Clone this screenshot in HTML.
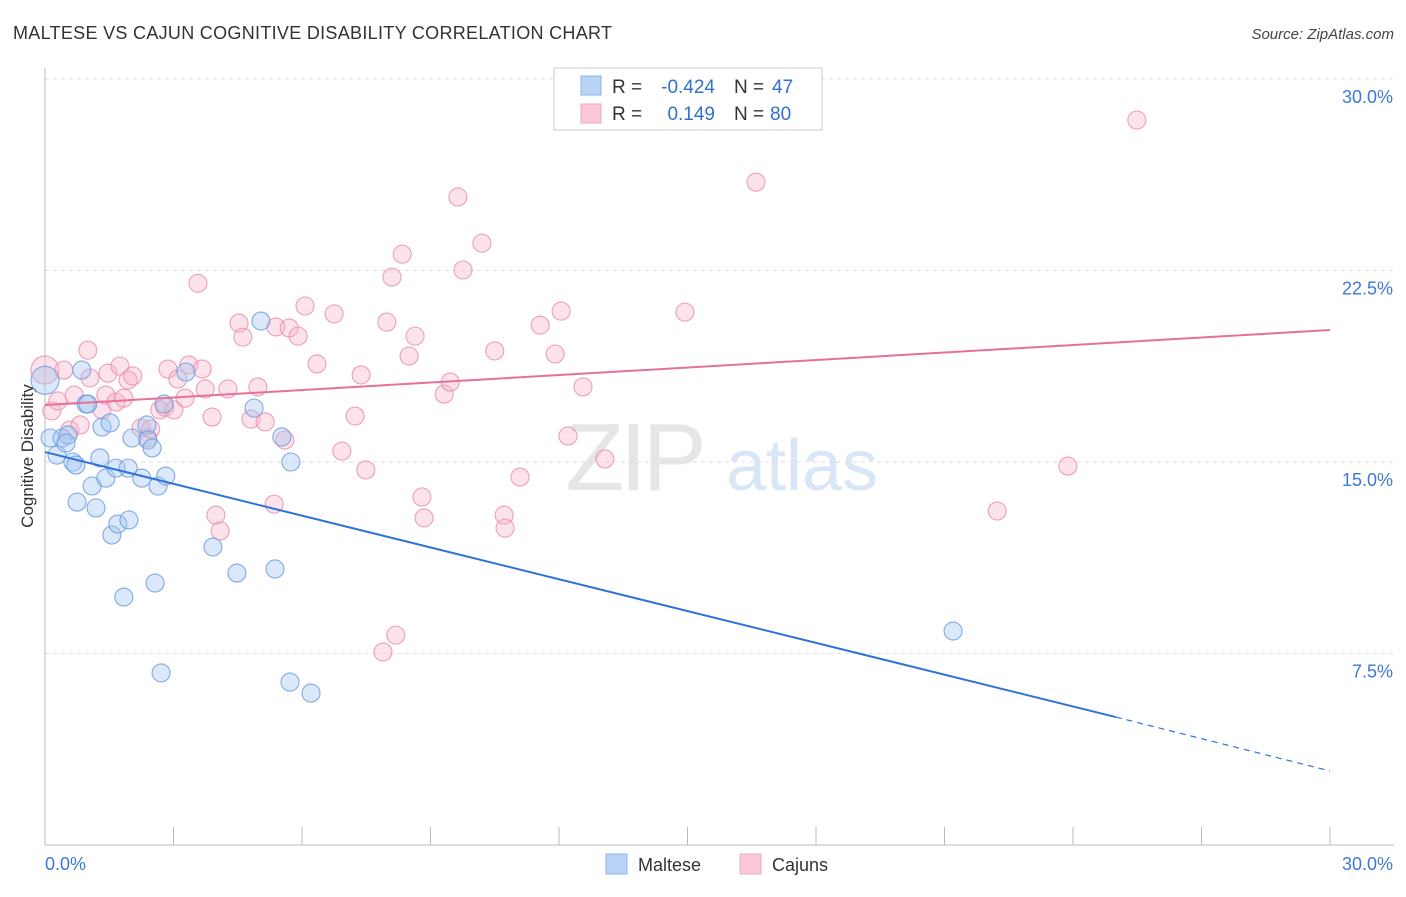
<!DOCTYPE html>
<html><head><meta charset="utf-8"><style>
body{margin:0;background:#fff;font-family:"Liberation Sans",sans-serif;}
svg text{font-family:"Liberation Sans",sans-serif;}
</style></head><body>
<svg id="chart" width="1406" height="892" xmlns="http://www.w3.org/2000/svg">
<text x="13" y="39" font-size="18" fill="#333" textLength="599">MALTESE VS CAJUN COGNITIVE DISABILITY CORRELATION CHART</text>
<text x="1394" y="39" font-size="15" fill="#444" text-anchor="end" font-style="italic">Source: ZipAtlas.com</text>
<text transform="translate(33,456) rotate(-90)" font-size="17" fill="#333" text-anchor="middle">Cognitive Disability</text>
<g>
<text x="634" y="490" font-size="96" fill="#e6e6e6" text-anchor="middle" font-family="Liberation Serif,serif" letter-spacing="-4">ZIP</text>
<text x="802" y="490" font-size="72" fill="#d8e6f6" text-anchor="middle">atlas</text>
</g>
<g id="grid"></g><g id="axes"></g><g id="marks"></g><g id="trends"></g>
<g>
<rect x="554" y="68" width="268" height="62" fill="#fff" stroke="#ccc"/>
<rect x="581" y="76" width="20" height="19" fill="#b9d3f5" stroke="#8cb3e8"/>
<rect x="581" y="104" width="20" height="19" fill="#fbc8d7" stroke="#f0a5bd"/>
<text x="612" y="93" font-size="19" fill="#333">R =</text>
<text x="715" y="93" font-size="19" fill="#3070d0" text-anchor="end">-0.424</text>
<text x="734" y="93" font-size="19" fill="#333">N =</text>
<text x="772" y="93" font-size="19" fill="#3070d0">47</text>
<text x="612" y="120" font-size="19" fill="#333">R =</text>
<text x="715" y="120" font-size="19" fill="#3070d0" text-anchor="end">0.149</text>
<text x="734" y="120" font-size="19" fill="#333">N =</text>
<text x="770" y="120" font-size="19" fill="#3070d0">80</text>
</g>
<g>
<rect x="606" y="854" width="21" height="20" fill="#b9d3f5" stroke="#8cb3e8"/>
<text x="638" y="871" font-size="18" fill="#333">Maltese</text>
<rect x="740" y="854" width="21" height="20" fill="#fbc8d7" stroke="#f0a5bd"/>
<text x="772" y="871" font-size="18" fill="#333">Cajuns</text>
</g>
</svg>
<script>
const yTicks=[7.5,15,22.5,30];
const yTickLabels=["7.5%","15.0%","22.5%","30.0%"];
const xTickVals=[0,3,6,9,12,15,18,21,24,27,30];
const malteseX=[0,0.12,0.28,0.40,0.54,0.49,0.65,0.72,0.86,0.96,1.0,1.10,1.19,0.75,1.28,1.33,1.42,1.52,1.56,1.66,1.70,1.84,1.94,1.96,2.03,2.26,2.38,2.40,2.50,2.57,2.64,2.71,2.78,2.82,3.29,3.92,4.48,4.88,5.04,5.37,5.53,5.72,5.74,6.21,21.2];
const malteseY=[18.2,15.94,15.27,15.94,16.06,15.74,15.0,14.88,18.6,17.27,17.27,14.06,13.2,13.43,15.16,16.37,14.37,16.53,12.14,14.76,12.57,9.71,14.76,12.73,15.94,14.37,16.45,15.86,15.55,10.26,14.06,6.74,17.27,14.45,18.52,11.67,10.65,17.11,20.52,10.81,15.98,6.38,15.0,5.95,8.38];
const cajunX=[0,0.16,0.30,0.44,0.58,0.68,0.82,1.0,1.05,1.33,1.42,1.47,1.66,1.75,1.84,1.94,2.05,2.24,2.40,2.47,2.68,2.80,2.87,3.01,3.10,3.27,3.36,3.57,3.67,3.74,3.90,3.99,4.09,4.27,4.53,4.62,4.81,4.97,5.14,5.35,5.39,5.60,5.70,5.91,6.07,6.35,6.75,6.93,7.24,7.38,7.49,7.98,8.10,8.19,7.89,8.34,8.50,8.64,8.80,8.85,9.32,9.46,9.64,9.76,10.2,10.5,10.72,10.74,11.09,11.56,11.91,12.05,12.21,12.56,13.07,14.94,16.6,22.23,23.88,25.49];
const cajunY=[18.6,17.0,17.39,18.6,16.25,17.62,16.45,19.38,18.29,17.04,17.62,18.48,17.35,18.76,17.5,18.21,18.37,16.33,15.94,16.29,17.04,17.15,18.64,17.04,18.25,17.5,18.8,22.0,18.64,17.86,16.76,12.92,12.3,17.86,20.44,19.89,16.68,17.94,16.57,13.35,20.29,15.86,20.25,19.93,21.11,18.84,20.8,15.43,16.8,18.41,14.69,20.48,22.24,8.22,7.56,23.14,19.15,19.93,13.63,12.81,17.66,18.13,25.38,22.52,23.57,19.35,12.92,12.41,14.41,20.36,19.23,20.91,16.02,17.94,15.12,20.87,25.96,13.08,14.84,28.39];
const malteseTrend=[15.39,5.01,2.9]; // at x=0, 25, 30
const cajunTrend=[17.23,20.17]; // at x=0, 30
const NS="http://www.w3.org/2000/svg";
const X=v=>45+v/30*1285, Y=v=>845-v/7.5*191.5;
function mk(t,a,p){const e=document.createElementNS(NS,t);for(const k in a)e.setAttribute(k,a[k]);document.getElementById(p).appendChild(e);return e;}
yTicks.forEach((t,i)=>{
 const g=mk('line',{x1:45,x2:1394,y1:Y(t),y2:Y(t),stroke:'#ddd','stroke-dasharray':'4,4'},'grid');
 
 
 const l=mk('text',{x:1393,y:Y(t)+24,'font-size':18,fill:'#3c78d8','text-anchor':'end'},'axes');
 l.textContent=yTickLabels[i];
 
 
});
const ya=mk('line',{x1:45,x2:45,y1:68,y2:845,stroke:'#bbb'},'axes');


const xa=mk('line',{x1:45,x2:1394,y1:845,y2:845,stroke:'#bbb'},'axes');


xTickVals.forEach(t=>{const e=mk('line',{x1:X(t),x2:X(t),y1:827,y2:845,stroke:'#bbb'},'axes');
 
 });
const x0=mk('text',{x:45,y:870,'font-size':18,fill:'#3c78d8'},'axes');x0.textContent='0.0%';


const x1=mk('text',{x:1393,y:870,'font-size':18,fill:'#3c78d8','text-anchor':'end'},'axes');x1.textContent='30.0%';


function dots(xs,ys,fill,stroke,name){xs.forEach((v,i)=>{
 const c=mk('circle',{cx:X(v),cy:Y(ys[i]),r:(v===0&&i===0)?14:9,fill:fill,'fill-opacity':0.4,stroke:stroke,'stroke-width':1.1,'stroke-opacity':0.85},'marks');
 
 });}
dots(cajunX,cajunY,'#f7b6ca','#ea8fae','cajun-point');
dots(malteseX,malteseY,'#a6c6f0','#6b9de0','maltese-point');
let t=mk('line',{x1:X(0),y1:Y(malteseTrend[0]),x2:X(25),y2:Y(malteseTrend[1]),stroke:'#2f72d8','stroke-width':2},'trends');


t=mk('line',{x1:X(25),y1:Y(malteseTrend[1]),x2:X(30),y2:Y(malteseTrend[2]),stroke:'#2f72d8','stroke-width':1.2,'stroke-dasharray':'6,5'},'trends');


t=mk('line',{x1:X(0),y1:Y(cajunTrend[0]),x2:X(30),y2:Y(cajunTrend[1]),stroke:'#e7709a','stroke-width':2},'trends');


</script>
</body></html>
